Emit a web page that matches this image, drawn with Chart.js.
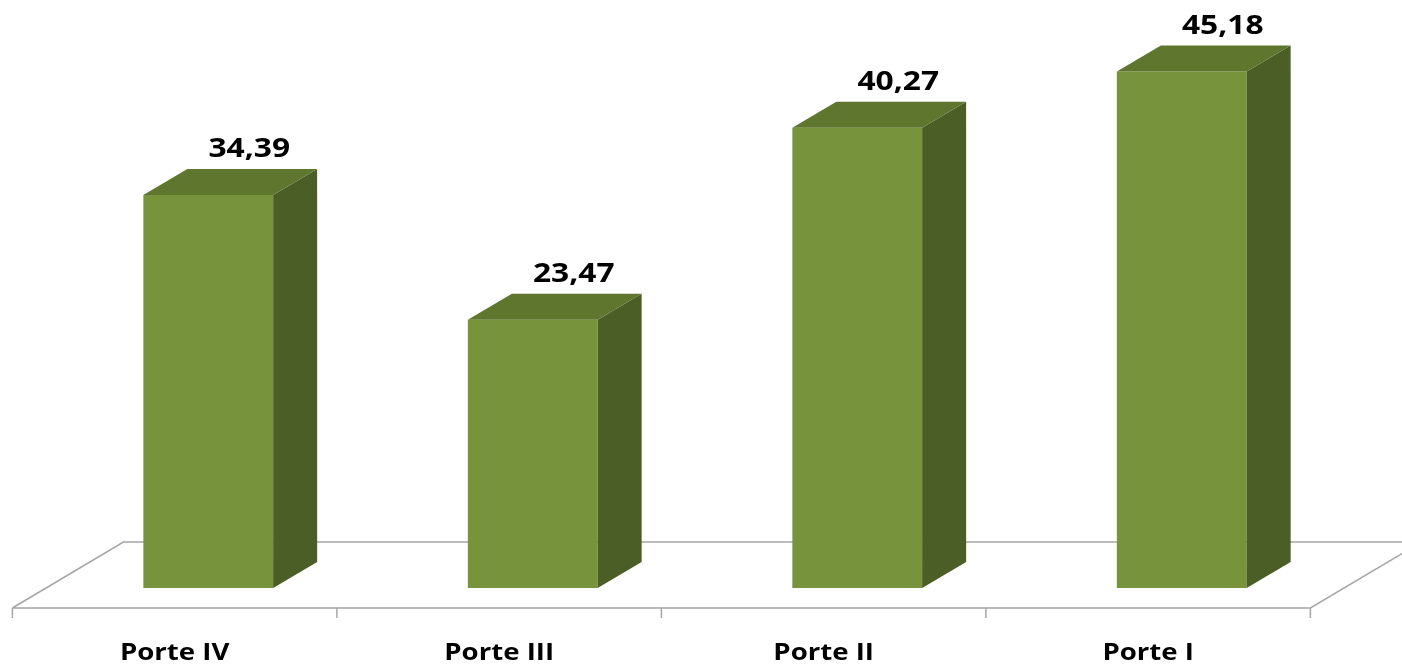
<!DOCTYPE html>
<html>
<head>
<meta charset="utf-8">
<script src="https://cdn.jsdelivr.net/npm/chart.js@4.4.0/dist/chart.umd.min.js"></script>
<style>
  html, body { margin: 0; padding: 0; background: #fff; }
  canvas { display: block; }
</style>
</head>
<body>
<canvas id="barChart" width="1402" height="665"></canvas>
<script>
const categories = ['Porte IV', 'Porte III', 'Porte II', 'Porte I'];
const values = [34.39, 23.47, 40.27, 45.18];
const valueLabels = ['34,39', '23,47', '40,27', '45,18'];

// 3D look: depth of the bar block and of the floor, in pixels
const barDepth = { dx: 44, dy: -26 };
const floorDepth = { dx: 111, dy: -66 };
const frontShift = { dx: 33.6, dy: 20 }; // bar front face vs floor front edge

const front = '#77933c';
const topFace = '#5f762f';
const sideFace = '#4b5e26';

function stretchedText(ctx, text, x, y, font, sx) {
  ctx.save();
  ctx.font = font;
  ctx.translate(x, y);
  ctx.scale(sx, 1);
  ctx.textAlign = 'center';
  ctx.textBaseline = 'alphabetic';
  ctx.fillStyle = '#000';
  ctx.fillText(text, 0, 0);
  ctx.restore();
}

const bars3d = {
  id: 'bars3d',
  beforeDatasetsDraw(chart) {
    const { ctx, scales: { x, y } } = chart;
    const n = categories.length;
    const step = x.getPixelForValue(1) - x.getPixelForValue(0);
    const left = x.getPixelForValue(0) - step / 2 - frontShift.dx;
    const right = left + step * n;
    const baseY = y.getPixelForValue(0) + frontShift.dy;

    ctx.save();
    ctx.strokeStyle = '#a6a6a6';
    ctx.lineWidth = 1.5;
    ctx.beginPath();
    // floor outline
    ctx.moveTo(left, baseY);
    ctx.lineTo(left + floorDepth.dx, baseY + floorDepth.dy);
    ctx.lineTo(right + floorDepth.dx + 20, baseY + floorDepth.dy);
    ctx.moveTo(left, baseY);
    ctx.lineTo(right, baseY);
    ctx.lineTo(right + floorDepth.dx, baseY + floorDepth.dy);
    // ticks
    for (let i = 0; i <= n; i++) {
      const tx = left + step * i;
      ctx.moveTo(tx, baseY);
      ctx.lineTo(tx, baseY + 10);
    }
    ctx.stroke();
    ctx.restore();
  },
  afterDatasetsDraw(chart) {
    const { ctx, scales: { x } } = chart;
    const meta = chart.getDatasetMeta(0);
    meta.data.forEach((bar, i) => {
      const x0 = bar.x - bar.width / 2;
      const x1 = bar.x + bar.width / 2;
      const t = bar.y;
      const b = bar.base;
      ctx.save();
      // side
      ctx.fillStyle = sideFace;
      ctx.beginPath();
      ctx.moveTo(x1, t);
      ctx.lineTo(x1 + barDepth.dx, t + barDepth.dy);
      ctx.lineTo(x1 + barDepth.dx, b + barDepth.dy);
      ctx.lineTo(x1, b);
      ctx.closePath();
      ctx.fill();
      // top
      ctx.fillStyle = topFace;
      ctx.beginPath();
      ctx.moveTo(x0, t);
      ctx.lineTo(x1, t);
      ctx.lineTo(x1 + barDepth.dx, t + barDepth.dy);
      ctx.lineTo(x0 + barDepth.dx, t + barDepth.dy);
      ctx.closePath();
      ctx.fill();
      ctx.restore();

      stretchedText(ctx, valueLabels[i], bar.x + 41, t + barDepth.dy - 12,
        'bold 26px "Open Sans", sans-serif', 1.22);
      stretchedText(ctx, categories[i], bar.x - frontShift.dx, 660,
        'bold 23px "Open Sans", sans-serif', 1.2);
    });
  }
};

new Chart(document.getElementById('barChart'), {
  type: 'bar',
  data: {
    labels: categories,
    datasets: [{
      data: values,
      backgroundColor: front,
      borderWidth: 0,
      barPercentage: 0.8,
      categoryPercentage: 0.5
    }]
  },
  options: {
    responsive: false,
    animation: false,
    layout: { padding: { top: 16.5, bottom: 77, left: 46, right: 58 } },
    scales: {
      x: { display: false },
      y: { display: false, min: 0, max: 50 }
    },
    plugins: {
      legend: { display: false },
      tooltip: { enabled: false }
    }
  },
  plugins: [bars3d]
});
</script>
</body>
</html>
